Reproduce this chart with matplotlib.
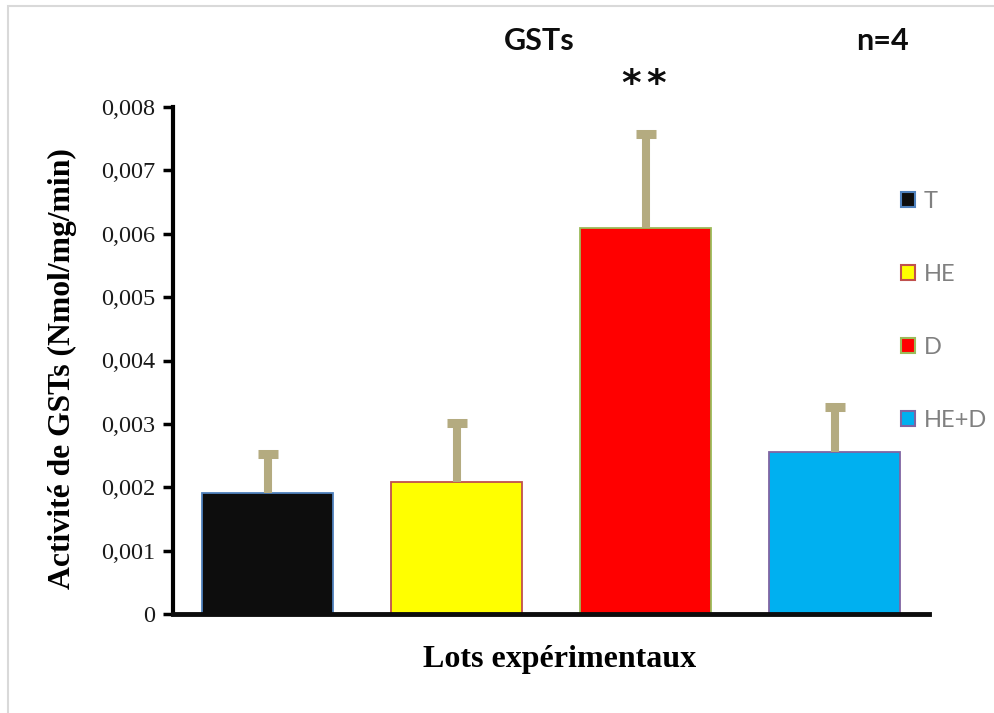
import numpy as np
import matplotlib
matplotlib.use('Agg')
import matplotlib.pyplot as plt
from matplotlib.patches import Rectangle, Patch

groups = ['T', 'HE', 'D', 'HE+D']
gst = [0.00191, 0.00208, 0.00609, 0.00255]
sem = [0.00062, 0.00094, 0.00149, 0.00071]
yticks = [0, 0.001, 0.002, 0.003, 0.004, 0.005, 0.006, 0.007, 0.008]
ytick_labels = ['0', '0,001', '0,002', '0,003', '0,004', '0,005', '0,006', '0,007', '0,008']

fill = ['#0d0d0d', '#ffff00', '#ff0000', '#00b0f0']
edge = ['#4f81bd', '#c0504d', '#9bbb59', '#8064a2']
err_col = '#b4ab80'

fig = plt.figure(figsize=(9.94, 7.13), dpi=100)
ax = fig.add_axes([173/994, 1-614/713, 756/994, 507/713])

# grey frame of the original sheet
fig.patches.append(Rectangle((8/994, -0.02), 1.0, 1-6/713+0.02, transform=fig.transFigure,
                             fill=False, edgecolor='#d9d9d9', linewidth=1.5))

x = np.arange(len(groups))
ax.bar(x, gst, width=0.69, color=fill, edgecolor=edge, linewidth=1.3, zorder=2)

eb = ax.errorbar(x, gst, yerr=[np.zeros(len(sem)), sem], fmt='none', ecolor=err_col,
                 elinewidth=5.8, capsize=7.5, capthick=6.5, zorder=3)
# hide the caps sitting on top of the bars
for cl in eb.lines[1]:
    if np.allclose(cl.get_ydata(), gst):
        cl.set_visible(False)

ax.set_xlim(-0.5, 3.5)
ax.set_ylim(0, 0.008)
ax.set_xticks([])
ax.set_yticks(yticks)
ax.set_yticklabels(ytick_labels, family='Liberation Serif', fontsize=17.5, color='#1a1a1a')
ax.tick_params(axis='y', direction='out', length=7, width=2.5, pad=6)

for s in ['top', 'right']:
    ax.spines[s].set_visible(False)
ax.spines['left'].set_linewidth(3)
ax.spines['bottom'].set_linewidth(3.5)
ax.spines['bottom'].set_color('#0d0d0d')

fig.text(62/994, 1-369/713, 'Activité de GSTs (Nmol/mg/min)', rotation=90, ha='center', va='center',
         family='Liberation Serif', fontweight='bold', fontsize=22.8)
fig.text(560/994, 1-659/713, 'Lots expérimentaux', ha='center', va='center',
         family='Liberation Serif', fontweight='bold', fontsize=23)

fig.text(539/994, 1-41/713, 'GSTs', ha='center', va='center', family='Lato',
         fontweight='bold', fontsize=22, color='#0d0d0d')
fig.text(882/994, 1-41/713, 'n=4', ha='center', va='center', family='Lato',
         fontweight='bold', fontsize=22, color='#0d0d0d')
# significance stars over D
for xs in (631, 656):
    fig.text(xs/994, 1-85/713, '*', ha='center', va='center', family='DejaVu Sans',
             fontweight='bold', fontsize=27, color='#0d0d0d')

handles = [Patch(facecolor=f, edgecolor=e, linewidth=1.5) for f, e in zip(fill, edge)]
leg = fig.legend(handles, groups, loc='upper left', bbox_to_anchor=(880/994, 1-170/713),
                 frameon=False, prop={'family': 'Lato', 'size': 17},
                 handlelength=0.6, handleheight=0.6, handletextpad=0.35, labelspacing=2.2)
for t in leg.get_texts():
    t.set_color('#808080')

fig.savefig('out.png', dpi=100, facecolor='white')
